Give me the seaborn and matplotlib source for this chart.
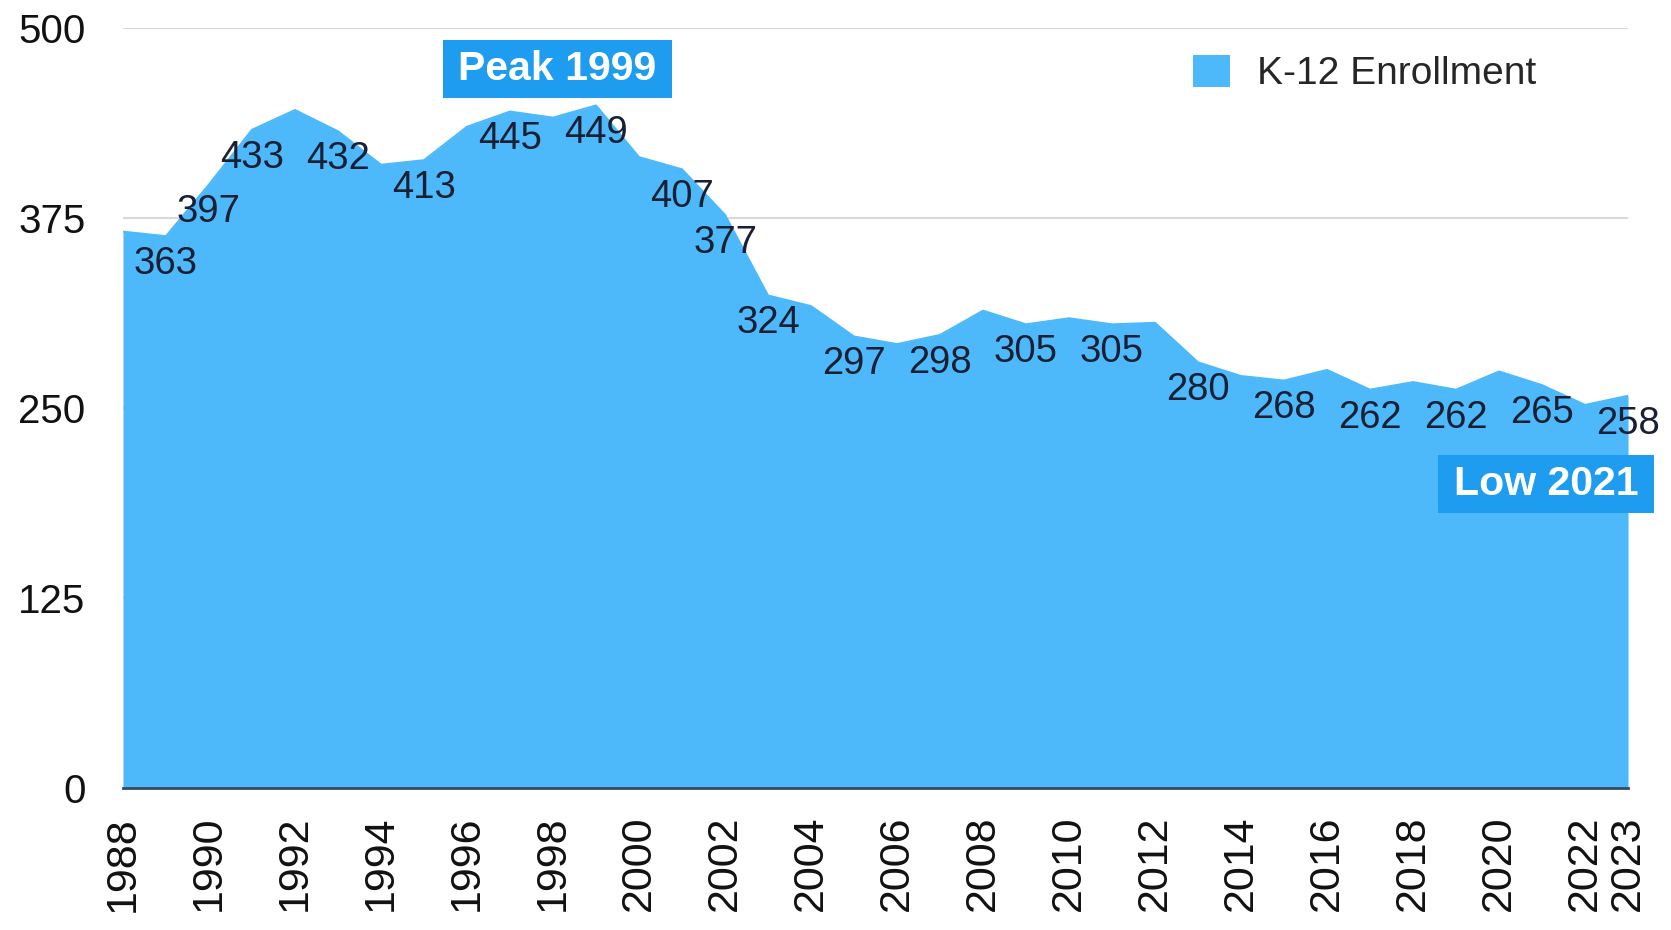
import matplotlib
matplotlib.use("Agg")
import matplotlib.pyplot as plt
from matplotlib.patches import Patch
from matplotlib.path import Path
import numpy as np
import pandas as pd
import seaborn as sns

# K-12 enrollment by year
years = list(range(1988, 2024))
enrollment = [366, 363, 397, 433, 446, 432, 410, 413, 435, 445, 441, 449,
              415, 407, 377, 324, 317, 297, 292, 298, 314, 305, 309, 305,
              306, 280, 271, 268, 275, 262, 267, 262, 274, 265, 252, 258]

# Years whose value is printed on the chart
labelled_years = [1989, 1990, 1991, 1993, 1995, 1997, 1999, 2001, 2002, 2003,
                  2005, 2007, 2009, 2011, 2013, 2015, 2017, 2019, 2021, 2023]

y_ticks = [0, 125, 250, 375, 500]
x_tick_years = list(range(1988, 2023, 2)) + [2023]

series_name = "K-12 Enrollment"
peak_text = "Peak 1999"
low_text = "Low 2021"

df = pd.DataFrame({"year": years, "enrollment": enrollment})

AREA = "#4db8fa"
BOX = "#1d9cf0"
LABEL = "#1a1f33"


def wide_box(x0, y0, width, height, mutation_size):
    """Rectangle with more horizontal than vertical padding around a text."""
    padx = 0.38 * mutation_size
    pady = 0.25 * mutation_size
    return Path([(x0 - padx, y0 - pady), (x0 + width + padx, y0 - pady),
                 (x0 + width + padx, y0 + height + pady),
                 (x0 - padx, y0 + height + pady), (x0 - padx, y0 - pady)],
                closed=True)


sns.set_theme(style="white")
plt.rcParams["font.family"] = ["Liberation Sans", "DejaVu Sans"]

fig = plt.figure(figsize=(16.71, 9.30), dpi=100)
ax = fig.add_axes([0.0736, 0.1527, 0.9007, 0.8172])

ax.fill_between(df["year"], 0, df["enrollment"], color=AREA, linewidth=0, zorder=2)
sns.lineplot(data=df, x="year", y="enrollment", ax=ax, color=AREA,
             linewidth=1.5, zorder=3, legend=False)

ax.set_xlim(1988, 2023)
ax.set_ylim(0, 500)
ax.set_yticks(y_ticks)
ax.set_yticklabels([str(v) for v in y_ticks])
ax.set_xticks(x_tick_years)
ax.set_xticklabels([str(v) for v in x_tick_years], rotation=90)
ax.tick_params(axis="y", labelsize=29, length=0, pad=27, labelcolor="#111111")
ax.tick_params(axis="x", labelsize=31, length=0, pad=20, labelcolor="#111111")
ax.set_xlabel("")
ax.set_ylabel("")

ax.yaxis.grid(True, color="#d8d8d8", linewidth=1.5, zorder=0)
ax.xaxis.grid(False)
ax.set_axisbelow(True)
for side in ["top", "right", "left"]:
    ax.spines[side].set_visible(False)
ax.spines["bottom"].set_color("#34495e")
ax.spines["bottom"].set_linewidth(2)
ax.spines["bottom"].set_zorder(4)

# value labels just under the curve
for yr in labelled_years:
    val = enrollment[years.index(yr)]
    ax.annotate(str(val), xy=(yr, val), xytext=(0, -20), textcoords="offset points",
                ha="center", va="center", fontsize=27.5, color=LABEL, zorder=5,
                annotation_clip=False)

# highlight boxes
box_kw = dict(boxstyle=wide_box, facecolor=BOX, edgecolor="none")
ax.text(1998.1, 473, peak_text, ha="center", va="center", fontsize=29.5,
        fontweight="bold", color="white", bbox=box_kw, zorder=6, clip_on=False)
ax.text(2021.1, 200, low_text, ha="center", va="center", fontsize=29.5,
        fontweight="bold", color="white", bbox=box_kw, zorder=6, clip_on=False)

handles = [Patch(facecolor=AREA, edgecolor="none", label=series_name)]
ax.legend(handles=handles, loc="upper left", bbox_to_anchor=(0.711, 0.965),
          frameon=False, fontsize=28, handlelength=0.95, handleheight=0.9,
          handletextpad=0.7, borderpad=0, borderaxespad=0)

fig.savefig("out.png", dpi=100)
